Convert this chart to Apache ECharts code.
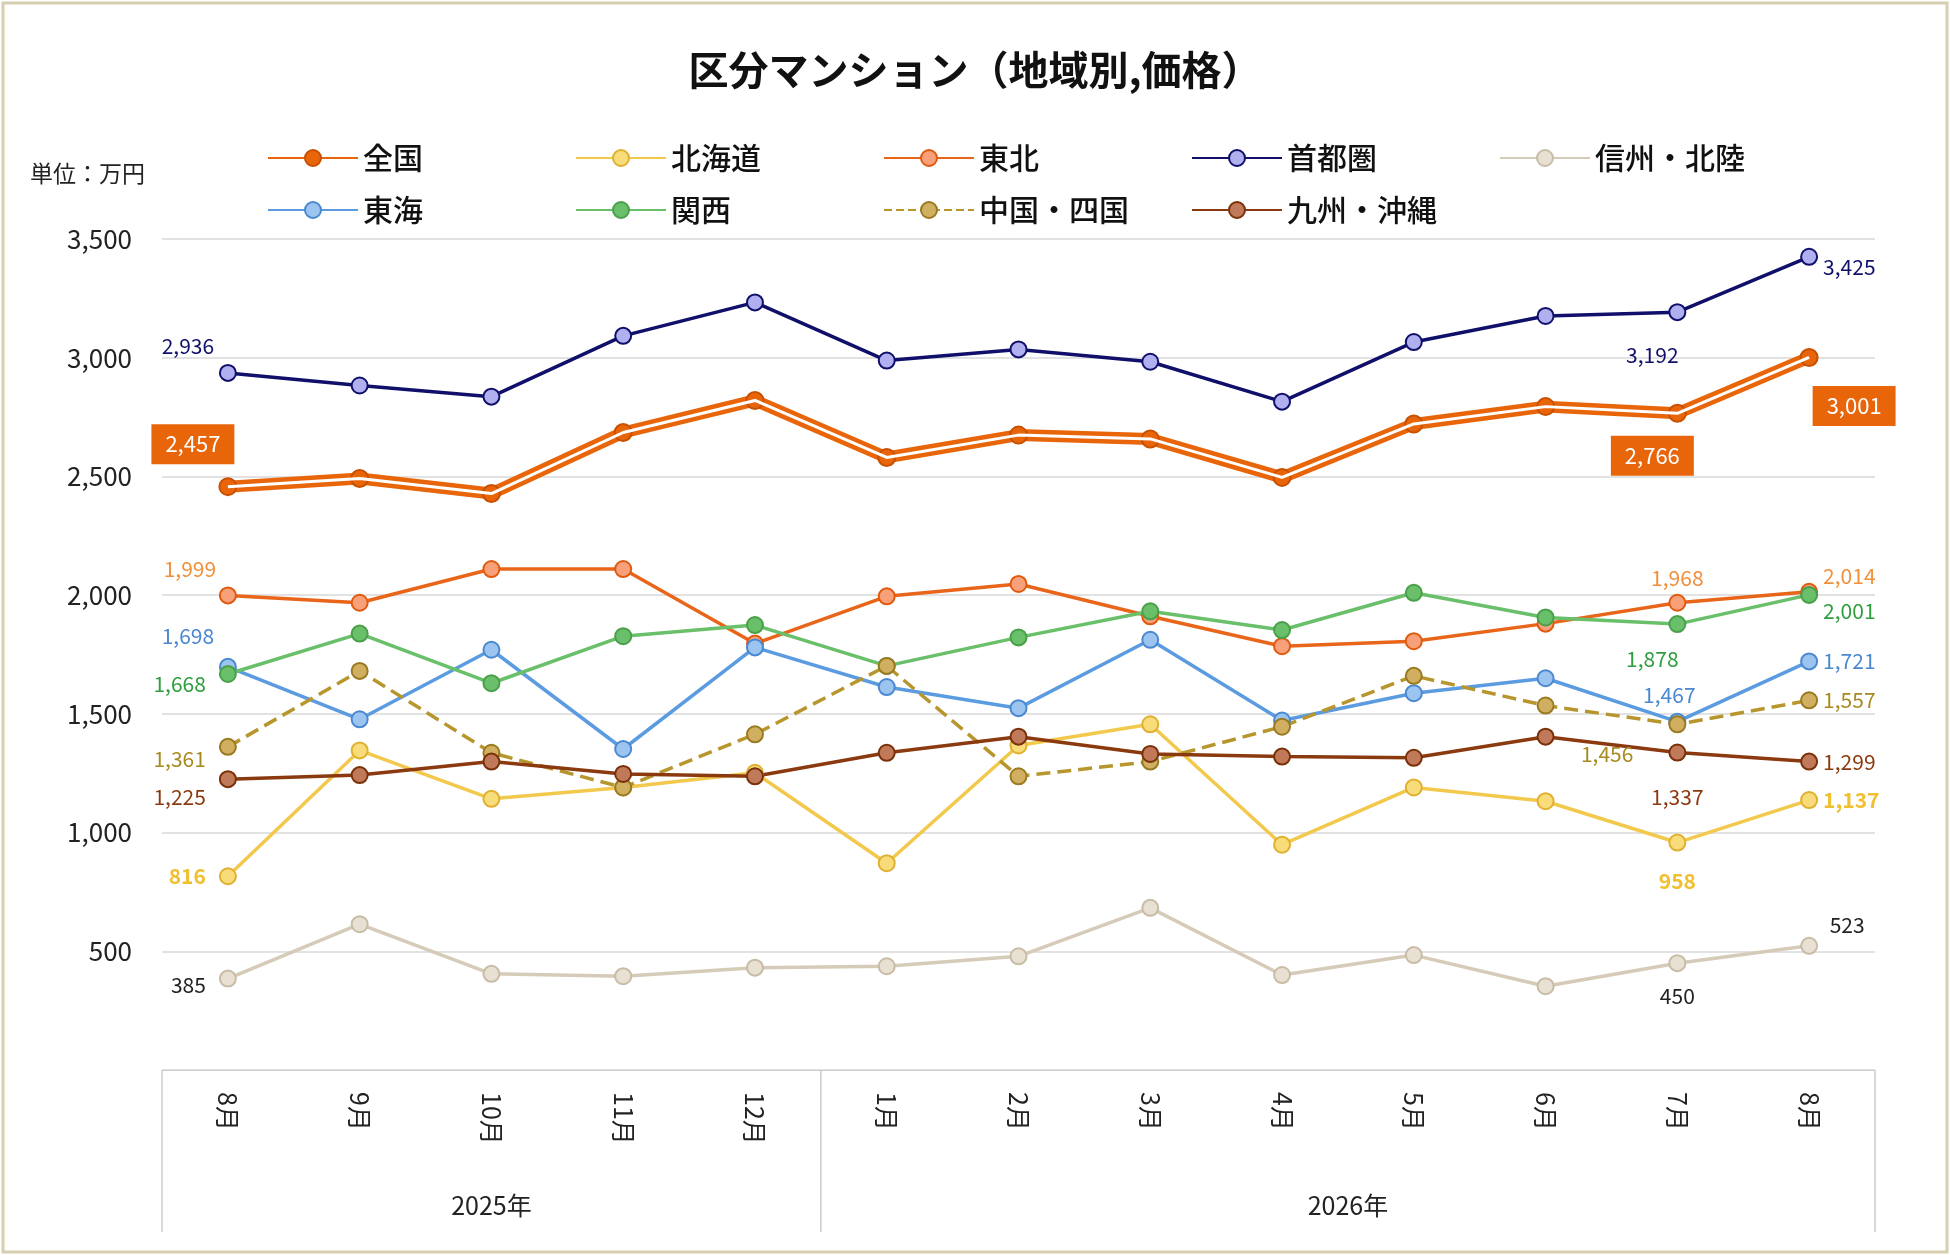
<!DOCTYPE html>
<html><head><meta charset="utf-8">
<script src="https://cdn.jsdelivr.net/npm/echarts@6/dist/echarts.min.js"></script>
<style>html,body{margin:0;padding:0;background:#fff}#c{width:1950px;height:1255px}</style>
</head><body><div id="c"></div>
<script>
const months=['8月','9月','10月','11月','12月','1月','2月','3月','4月','5月','6月','7月','8月'];
const years=['2025年','2026年'];
const yTicks=[500,1000,1500,2000,2500,3000,3500];
const zenkoku=[2457,2491,2428,2685,2820,2580,2674,2658,2496,2721,2794,2766,3001];
const hokkaido=[816,1346,1142,1190,1252,871,1367,1456,949,1190,1132,958,1137];
const tohoku=[1999,1968,2110,2110,1796,1995,2047,1911,1785,1806,1880,1968,2014];
const shutoken=[2936,2883,2836,3092,3233,2988,3035,2983,2815,3066,3176,3192,3425];
const shinshu=[385,614,405,395,431,437,479,683,400,484,353,450,523];
const tokai=[1698,1477,1770,1352,1780,1613,1524,1812,1472,1587,1650,1467,1721];
const kansai=[1668,1838,1629,1827,1874,1702,1822,1932,1853,2010,1906,1878,2001];
const chugoku=[1361,1681,1336,1190,1414,1702,1237,1299,1446,1660,1535,1456,1557];
const kyushu=[1225,1242,1299,1247,1237,1336,1404,1331,1320,1315,1404,1337,1299];

const F='"Noto Sans CJK JP","Noto Sans",sans-serif';
const G={left:162,right:75,top:239,bottom:185};
function mk(vals,labs,color,extra){
  return vals.map((v,i)=>{
    const o={value:v};
    if(labs[i]) o.label=Object.assign({show:true,color:color,fontSize:21,fontFamily:F,formatter:(p)=>p.value.toLocaleString('en-US')},extra||{},labs[i]);
    return o;
  });
}
function ser(name,vals,line,fill,border,labs,lc,extra,dash){
  return {name,type:'line',data:mk(vals,labs,lc,extra),symbol:'circle',symbolSize:16,
    lineStyle:{color:line,width:3.5,type:dash?'dashed':'solid'},
    itemStyle:{color:fill,borderColor:border,borderWidth:2},z:3};
}
const series=[
  {name:'全国',type:'line',data:mk(zenkoku,{0:{position:'top',offset:[-35,-8]},11:{position:'bottom',offset:[-25,8]},12:{position:'bottom',offset:[45,14]}},'#fff',{backgroundColor:'#e8650a',padding:[9,14],fontSize:22}),
   symbol:'circle',symbolSize:17,lineStyle:{color:'#e8650a',width:12},itemStyle:{color:'#e8650a',borderColor:'#c85000',borderWidth:2},z:5},
  {name:'全国w',type:'line',data:zenkoku,symbol:'none',silent:true,lineStyle:{color:'#fff',width:3},z:6},
  ser('北海道',hokkaido,'#f2c94c','#f8dc7a','#e0b030',{0:{position:'left',offset:[-8,0]},11:{position:'bottom',offset:[0,14]},12:{position:'right'}},'#f0c030',{fontWeight:'bold'}),
  ser('東北',tohoku,'#e8651a','#f7a07a','#e05a10',{0:{position:'top',offset:[-38,-2]},11:{position:'top'},12:{position:'right',offset:[0,-16]}},'#f0903a'),
  ser('首都圏',shutoken,'#10106a','#b0b0f0','#10106a',{0:{position:'top',offset:[-40,-2]},11:{position:'bottom',offset:[-25,18]},12:{position:'right',offset:[0,10]}},'#10106a'),
  ser('信州・北陸',shinshu,'#d6cbb8','#e8e0d2','#c8bca6',{0:{position:'left',offset:[-8,6]},11:{position:'bottom',offset:[0,8]},12:{position:'top',offset:[38,4]}},'#222'),
  ser('東海',tokai,'#5b9be0','#9cc4f0','#4a88d0',{0:{position:'top',offset:[-40,-6]},11:{position:'top',offset:[-8,-2]},12:{position:'right'}},'#4a88d0'),
  ser('関西',kansai,'#6abf6a','#6abf6a','#4aa04a',{0:{position:'left',offset:[-8,10]},11:{position:'bottom',offset:[-25,10]},12:{position:'right',offset:[0,16]}},'#2e9e3e'),
  ser('中国・四国',chugoku,'#b8962e','#d0b060','#9a7a20',{0:{position:'left',offset:[-8,12]},11:{position:'left',offset:[-30,30]},12:{position:'right'}},'#a88a20',null,true),
  ser('九州・沖縄',kyushu,'#8b3a0f','#c07a5a','#7a3008',{0:{position:'left',offset:[-8,18]},11:{position:'bottom',offset:[0,20]},12:{position:'right'}},'#8b3a0f'),
];
const names=['全国','北海道','東北','首都圏','信州・北陸','東海','関西','中国・四国','九州・沖縄'];
const legends=names.map((n,i)=>({data:[n],left:(i<5?262+i*308:262+(i-5)*308),top:(i<5?138:190),itemWidth:90,itemHeight:20,
  textStyle:{fontSize:30,fontFamily:F,color:'#111',fontWeight:500},selectedMode:false}));
const chart=echarts.init(document.getElementById('c'));
const W=1950,plotW=W-G.left-G.right,step=plotW/months.length;
chart.setOption({
  animation:false,backgroundColor:'#fff',
  title:{text:'区分マンション（地域別,価格）',left:'center',top:45,textStyle:{fontSize:40,fontWeight:'bold',fontFamily:F,color:'#111'}},
  legend:legends,
  grid:G,
  xAxis:{type:'category',data:months,boundaryGap:true,axisLine:{lineStyle:{color:'#ccc'}},axisTick:{show:false},
    axisLabel:{rotate:-90,fontSize:25,fontFamily:F,color:'#222',margin:22}},
  yAxis:{type:'value',min:0,max:3500,interval:500,axisLine:{show:false},axisTick:{show:false},
    splitLine:{lineStyle:{color:'#d9d9d9',width:1.5}},
    axisLabel:{fontSize:26,fontFamily:F,color:'#222',margin:30,formatter:v=>yTicks.includes(v)?v.toLocaleString('en-US'):''}},
  graphic:[
    {type:'rect',shape:{x:3,y:3,width:1944,height:1249},style:{fill:'none',stroke:'#d8ceb0',lineWidth:3}},
    {type:'text',left:30,top:162,style:{text:'単位：万円',fontSize:23,fontFamily:F,fill:'#222'}},
    {type:'line',shape:{x1:G.left,y1:1070,x2:G.left,y2:1232},style:{stroke:'#ccc',lineWidth:1.5}},
    {type:'line',shape:{x1:G.left+5*step,y1:1070,x2:G.left+5*step,y2:1232},style:{stroke:'#ccc',lineWidth:1.5}},
    {type:'line',shape:{x1:W-G.right,y1:1070,x2:W-G.right,y2:1232},style:{stroke:'#ccc',lineWidth:1.5}},
    {type:'text',x:G.left+2.5*step,y:1205,style:{text:years[0],fontSize:25,fontFamily:F,fill:'#222',align:'center',verticalAlign:'middle'}},
    {type:'text',x:G.left+9*step,y:1205,style:{text:years[1],fontSize:25,fontFamily:F,fill:'#222',align:'center',verticalAlign:'middle'}}
  ],
  series
});
</script></body></html>
